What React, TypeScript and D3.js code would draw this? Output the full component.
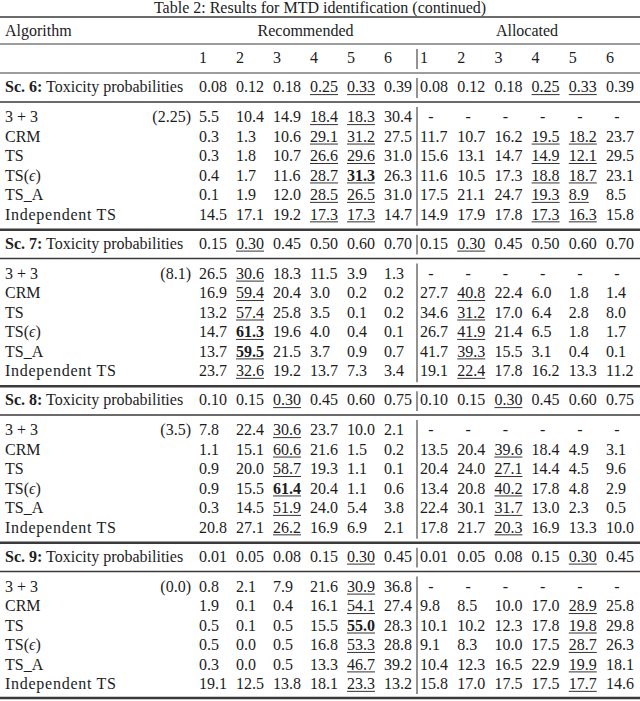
import React from "react";
import * as d3 from "d3";

// ---------- data ----------
const tableTitle = "Table 2: Results for MTD identification (continued)";
const algorithms = ["3 + 3", "CRM", "TS", "TS(ϵ)", "TS_A", "Independent TS"];
const doseLevels = [1, 2, 3, 4, 5, 6];
const scenarioNames = ["Sc. 6:", "Sc. 7:", "Sc. 8:", "Sc. 9:"];
const threePlusThreeNone = ["(2.25)", "(8.1)", "(3.5)", "(0.0)"];

const toxicityProbabilities = [
  [0.08, 0.12, 0.18, 0.25, 0.33, 0.39],
  [0.15, 0.30, 0.45, 0.50, 0.60, 0.70],
  [0.10, 0.15, 0.30, 0.45, 0.60, 0.75],
  [0.01, 0.05, 0.08, 0.15, 0.30, 0.45],
];

// MTD dose columns (0-based) that are underlined in each scenario
const mtdColumns = [[3, 4], [1], [2], [4]];

const sc6Recommended = [
  [5.5, 10.4, 14.9, 18.4, 18.3, 30.4],
  [0.3, 1.3, 10.6, 29.1, 31.2, 27.5],
  [0.3, 1.8, 10.7, 26.6, 29.6, 31.0],
  [0.4, 1.7, 11.6, 28.7, 31.3, 26.3],
  [0.1, 1.9, 12.0, 28.5, 26.5, 31.0],
  [14.5, 17.1, 19.2, 17.3, 17.3, 14.7],
];
const sc6Allocated = [
  null,
  [11.7, 10.7, 16.2, 19.5, 18.2, 23.7],
  [15.6, 13.1, 14.7, 14.9, 12.1, 29.5],
  [11.6, 10.5, 17.3, 18.8, 18.7, 23.1],
  [17.5, 21.1, 24.7, 19.3, 8.9, 8.5],
  [14.9, 17.9, 17.8, 17.3, 16.3, 15.8],
];
const sc7Recommended = [
  [26.5, 30.6, 18.3, 11.5, 3.9, 1.3],
  [16.9, 59.4, 20.4, 3.0, 0.2, 0.2],
  [13.2, 57.4, 25.8, 3.5, 0.1, 0.2],
  [14.7, 61.3, 19.6, 4.0, 0.4, 0.1],
  [13.7, 59.5, 21.5, 3.7, 0.9, 0.7],
  [23.7, 32.6, 19.2, 13.7, 7.3, 3.4],
];
const sc7Allocated = [
  null,
  [27.7, 40.8, 22.4, 6.0, 1.8, 1.4],
  [34.6, 31.2, 17.0, 6.4, 2.8, 8.0],
  [26.7, 41.9, 21.4, 6.5, 1.8, 1.7],
  [41.7, 39.3, 15.5, 3.1, 0.4, 0.1],
  [19.1, 22.4, 17.8, 16.2, 13.3, 11.2],
];
const sc8Recommended = [
  [7.8, 22.4, 30.6, 23.7, 10.0, 2.1],
  [1.1, 15.1, 60.6, 21.6, 1.5, 0.2],
  [0.9, 20.0, 58.7, 19.3, 1.1, 0.1],
  [0.9, 15.5, 61.4, 20.4, 1.1, 0.6],
  [0.3, 14.5, 51.9, 24.0, 5.4, 3.8],
  [20.8, 27.1, 26.2, 16.9, 6.9, 2.1],
];
const sc8Allocated = [
  null,
  [13.5, 20.4, 39.6, 18.4, 4.9, 3.1],
  [20.4, 24.0, 27.1, 14.4, 4.5, 9.6],
  [13.4, 20.8, 40.2, 17.8, 4.8, 2.9],
  [22.4, 30.1, 31.7, 13.0, 2.3, 0.5],
  [17.8, 21.7, 20.3, 16.9, 13.3, 10.0],
];
const sc9Recommended = [
  [0.8, 2.1, 7.9, 21.6, 30.9, 36.8],
  [1.9, 0.1, 0.4, 16.1, 54.1, 27.4],
  [0.5, 0.1, 0.5, 15.5, 55.0, 28.3],
  [0.5, 0.0, 0.5, 16.8, 53.3, 28.8],
  [0.3, 0.0, 0.5, 13.3, 46.7, 39.2],
  [19.1, 12.5, 13.8, 18.1, 23.3, 13.2],
];
const sc9Allocated = [
  null,
  [9.8, 8.5, 10.0, 17.0, 28.9, 25.8],
  [10.1, 10.2, 12.3, 17.8, 19.8, 29.8],
  [9.1, 8.3, 10.0, 17.5, 28.7, 26.3],
  [10.4, 12.3, 16.5, 22.9, 19.9, 18.1],
  [15.8, 17.0, 17.5, 17.5, 17.7, 14.6],
];

// bold cells in the "Recommended" block: [scenario, algorithm row, dose column]
const boldRecommended = [
  [0, 3, 4],
  [1, 3, 1],
  [1, 4, 1],
  [2, 3, 2],
  [3, 2, 4],
];

const recommendedBlocks = [sc6Recommended, sc7Recommended, sc8Recommended, sc9Recommended];
const allocatedBlocks = [sc6Allocated, sc7Allocated, sc8Allocated, sc9Allocated];

// ---------- layout ----------
const W = 640;
const H = 701;
const FONT = "'Liberation Serif', 'Times New Roman', Times, serif";
const FS = 16;
const INK = "#1c1c1c";
const RULE = "#3a3a3a";

const fmt1 = d3.format(".1f");
const fmt2 = d3.format(".2f");

const recX = d3.scaleLinear().domain([0, 5]).range([199, 384]);
const allocX = d3.scaleLinear().domain([0, 5]).range([420, 606]);
const vLineX = 417;

const sectionY = d3.scaleLinear().domain([0, 1]).range([87, 243.5]); // Sc rows
const rowStep = 19.45;
const firstRowOffset = 30;

function textWidth(s: string) {
  let w = 0;
  for (const ch of s) {
    if (ch === ".") w += 0.25;
    else if (/[0-9]/.test(ch)) w += 0.5;
    else w += 0.45;
  }
  return w * FS;
}

const baseline = (cy: number) => cy + 5.4;

function Cell({ x, cy, text, underline, bold }: { x: number; cy: number; text: string; underline?: boolean; bold?: boolean }) {
  const by = baseline(cy);
  return (
    <g>
      <text x={x} y={by} fontWeight={bold ? "bold" : "normal"}>
        {text}
      </text>
      {underline && (
        <line x1={x} x2={x + textWidth(text)} y1={by + 2.2} y2={by + 2.2} stroke={INK} strokeWidth={0.9} />
      )}
    </g>
  );
}

function Label({ alg, cy }: { alg: string; cy: number }) {
  if (alg === "TS(ϵ)") {
    return (
      <text x={5} y={baseline(cy)}>
        TS(<tspan fontStyle="italic">ϵ</tspan>)
      </text>
    );
  }
  if (alg === "Independent TS") {
    return (
      <text x={5} y={baseline(cy)} textLength={111} lengthAdjust="spacing">
        {alg}
      </text>
    );
  }
  return (
    <text x={5} y={baseline(cy)}>
      {alg}
    </text>
  );
}

export default function App() {
  const hRules: { y: number; w: number }[] = [
    { y: 17, w: 1.6 },
    { y: 44, w: 1 },
    { y: 73, w: 1 },
  ];
  const scYs = scenarioNames.map((_, s) => sectionY(s));
  scYs.forEach((sy, s) => {
    hRules.push({ y: sy + 15, w: 1.4 });
    const endY = sy + firstRowOffset + 5 * rowStep + 15.5;
    hRules.push({ y: s === scYs.length - 1 ? 698 : endY, w: 2.4 });
  });
  hRules.sort((a, b) => a.y - b.y);

  // vertical segments between consecutive rules starting at rule y=44
  const vSegs: [number, number][] = [];
  for (let i = 1; i < hRules.length - 1; i++) {
    vSegs.push([hRules[i].y + 5, hRules[i + 1].y - 4]);
  }

  const isBold = (s: number, r: number, c: number) =>
    boldRecommended.some(([bs, br, bc]) => bs === s && br === r && bc === c);

  return (
    <div style={{ position: "absolute", left: 0, top: 0 }}>
      <svg width={W} height={H} viewBox={`0 0 ${W} ${H}`} style={{ display: "block", background: "#fff" }}>
        <g fontFamily={FONT} fontSize={FS} fill={INK}>
          <text x={W / 2} y={12.5} textAnchor="middle">
            {tableTitle}
          </text>

          {hRules.map((r, i) => (
            <line key={"h" + i} x1={0} x2={W} y1={r.y} y2={r.y} stroke={RULE} strokeWidth={r.w} />
          ))}
          {vSegs.map((s, i) => (
            <line key={"v" + i} x1={vLineX} x2={vLineX} y1={s[0]} y2={s[1]} stroke={RULE} strokeWidth={1.1} />
          ))}

          {/* header */}
          <text x={5} y={baseline(31)}>Algorithm</text>
          <text x={(recX(0) + recX(5) + 28) / 2} y={baseline(31)} textAnchor="middle">
            Recommended
          </text>
          <text x={(allocX(0) + allocX(5) + 28) / 2} y={baseline(31)} textAnchor="middle">
            Allocated
          </text>
          {doseLevels.map((d, i) => (
            <g key={"d" + i}>
              <text x={recX(i)} y={baseline(58)}>{d}</text>
              <text x={allocX(i)} y={baseline(58)}>{d}</text>
            </g>
          ))}

          {scenarioNames.map((name, s) => {
            const sy = scYs[s];
            const mtd = mtdColumns[s];
            return (
              <g key={"sc" + s}>
                <text x={5} y={baseline(sy)}>
                  <tspan fontWeight="bold">{name}</tspan>
                  <tspan> Toxicity probabilities</tspan>
                </text>
                {toxicityProbabilities[s].map((p, c) => (
                  <g key={"tp" + c}>
                    <Cell x={recX(c)} cy={sy} text={fmt2(p)} underline={mtd.includes(c)} />
                    <Cell x={allocX(c)} cy={sy} text={fmt2(p)} underline={mtd.includes(c)} />
                  </g>
                ))}
                {algorithms.map((alg, r) => {
                  const cy = sy + firstRowOffset + r * rowStep;
                  const rec = recommendedBlocks[s][r];
                  const alloc = allocatedBlocks[s][r];
                  return (
                    <g key={"r" + r}>
                      <Label alg={alg} cy={cy} />
                      {r === 0 && (
                        <text x={191} y={baseline(cy)} textAnchor="end">
                          {threePlusThreeNone[s]}
                        </text>
                      )}
                      {rec.map((v, c) => (
                        <Cell
                          key={"rc" + c}
                          x={recX(c)}
                          cy={cy}
                          text={fmt1(v)}
                          underline={mtd.includes(c)}
                          bold={isBold(s, r, c)}
                        />
                      ))}
                      {alloc
                        ? alloc.map((v, c) => (
                            <Cell key={"ac" + c} x={allocX(c)} cy={cy} text={fmt1(v)} underline={mtd.includes(c)} />
                          ))
                        : doseLevels.map((_, c) => (
                            <text key={"dash" + c} x={allocX(c) + 11} y={baseline(cy)} textAnchor="middle">
                              -
                            </text>
                          ))}
                    </g>
                  );
                })}
              </g>
            );
          })}
        </g>
      </svg>
    </div>
  );
}
